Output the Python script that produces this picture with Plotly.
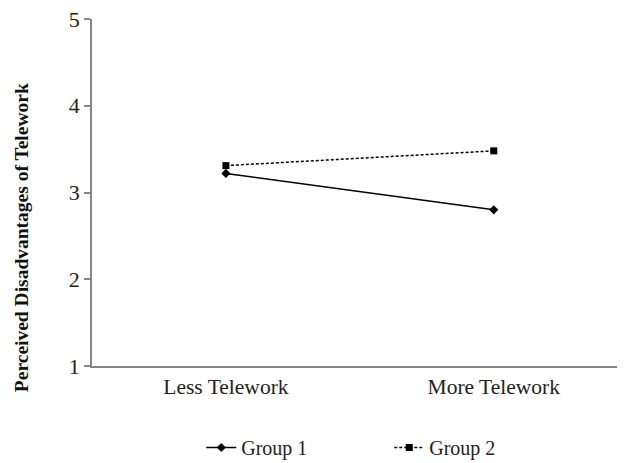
import plotly.graph_objects as go

categories = ["Less Telework", "More Telework"]
group1 = [3.22, 2.80]
group2 = [3.31, 3.48]
y_ticks = [1, 2, 3, 4, 5]

fig = go.Figure()
fig.add_trace(go.Scatter(
    x=categories, y=group1, name="Group 1", mode="lines+markers",
    line=dict(color="black", width=1.5),
    marker=dict(symbol="diamond", size=7, color="black"),
))
fig.add_trace(go.Scatter(
    x=categories, y=group2, name="Group 2", mode="lines+markers",
    line=dict(color="black", width=1.5, dash="3px,2px"),
    marker=dict(symbol="square", size=7, color="black"),
))

font_family = "Liberation Serif, Times New Roman, serif"
fig.update_layout(
    width=617, height=455,
    margin=dict(l=84, r=0, t=11, b=97, autoexpand=False),
    plot_bgcolor="white", paper_bgcolor="white",
    font=dict(family=font_family, size=18, color="#222"),
    showlegend=True,
    legend=dict(
        orientation="h", x=0.205, xanchor="left", y=-0.235, yanchor="middle",
        font=dict(family=font_family, size=20, color="#222"),
        entrywidth=143, entrywidthmode="pixels", itemwidth=30,
    ),
    annotations=[dict(
        text="<b>Perceived Disadvantages of Telework</b>",
        xref="paper", yref="paper", x=-0.131, y=0.369,
        xanchor="center", yanchor="middle", textangle=-90, showarrow=False,
        font=dict(family=font_family, size=19.5, color="#111"),
    )],
)
fig.update_xaxes(
    range=[-0.5, 1.49], showline=True, linecolor="#868686", linewidth=1.5,
    ticks="", showgrid=False, zeroline=False, automargin=False,
    tickfont=dict(family=font_family, size=21.5, color="#222"),
)
fig.update_yaxes(
    range=[1, 5], tickvals=y_ticks, showline=True, linecolor="#868686", linewidth=1.5,
    ticks="outside", ticklen=6, tickcolor="#868686", tickwidth=1.5,
    showgrid=False, zeroline=False, automargin=False, ticklabeloverflow="allow",
    tickfont=dict(family=font_family, size=22, color="#222"),
)
fig.write_html("out.html")
